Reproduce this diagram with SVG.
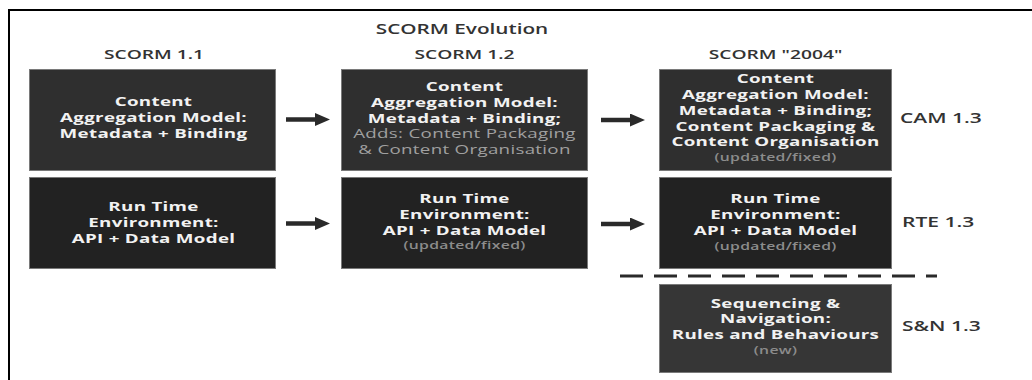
<svg xmlns="http://www.w3.org/2000/svg" width="1032" height="380" viewBox="0 0 1032 380">
<style>
text{font-family:"Open Sans","Liberation Sans",sans-serif}
.t{font-size:12.5px;font-weight:700;fill:#f2f2f2;text-anchor:middle;letter-spacing:0.2px}
.s{font-size:10.5px;font-weight:600;fill:#8c8c8c}
.g{font-weight:400;fill:#a0a0a0}
.h{font-size:13px;font-weight:600;fill:#333;text-anchor:middle}
.ti{font-size:14px;font-weight:600;fill:#333;text-anchor:middle}
.l{font-size:14px;font-weight:600;fill:#333;text-anchor:start}
.b1{fill:#2f2f2f;stroke:#7a7a7a;stroke-width:1}
.b2{fill:#222;stroke:#7a7a7a;stroke-width:1}
.b3{fill:#363636;stroke:#7a7a7a;stroke-width:1}
.c{stroke:#2a2a2a;stroke-width:4.5;fill:none;marker-end:url(#ah)}
</style>
<defs>
<marker id="ah" markerUnits="userSpaceOnUse" markerWidth="16" markerHeight="14" refX="0" refY="6.5" orient="auto">
<path d="M0,0 L15,6.5 L0,13 Z" fill="#2a2a2a"/>
</marker>
</defs>
<rect width="1032" height="380" fill="#fff"/>
<path d="M9,380 V10 H1032" fill="none" stroke="#000" stroke-width="2"/>
<g id="titles">
<text class="ti" transform="translate(462 0) scale(1.48 1)" x="0" y="34">SCORM Evolution</text>
<text class="h" transform="translate(154 0) scale(1.48 1)" x="0" y="59.5">SCORM 1.1</text>
<text class="h" transform="translate(464.5 0) scale(1.48 1)" x="0" y="59.5">SCORM 1.2</text>
<text class="h" transform="translate(775.5 0) scale(1.48 1)" x="0" y="59.5">SCORM "2004"</text>
</g>
<g id="cam11">
<rect class="b1" x="29.5" y="69.5" width="246" height="101"/>
<text class="t" transform="translate(153.5 0) scale(1.5 1)"><tspan x="0" y="106">Content</tspan><tspan x="0" y="122">Aggregation Model:</tspan><tspan x="0" y="138">Metadata + Binding</tspan></text>
</g>
<g id="cam12">
<rect class="b1" x="341.5" y="69.5" width="246" height="101"/>
<text class="t" transform="translate(464.5 0) scale(1.5 1)"><tspan x="0" y="91.5">Content</tspan><tspan x="0" y="107.5">Aggregation Model:</tspan><tspan x="0" y="123">Metadata + Binding;</tspan><tspan class="g" x="0" y="138.5">Adds: Content Packaging</tspan><tspan class="g" x="0" y="154">&amp; Content Organisation</tspan></text>
</g>
<g id="cam2004">
<rect class="b1" x="659.5" y="69.5" width="232" height="101"/>
<text class="t" transform="translate(775.5 0) scale(1.5 1)"><tspan x="0" y="83.5">Content</tspan><tspan x="0" y="99">Aggregation Model:</tspan><tspan x="0" y="115">Metadata + Binding;</tspan><tspan x="0" y="131">Content Packaging &amp;</tspan><tspan x="0" y="146.5">Content Organisation</tspan><tspan class="s" x="0" y="161.5">(updated/fixed)</tspan></text>
</g>
<g id="rte11">
<rect class="b2" x="29.5" y="177.5" width="246" height="91"/>
<text class="t" transform="translate(153.5 0) scale(1.5 1)"><tspan x="0" y="211">Run Time</tspan><tspan x="0" y="227">Environment:</tspan><tspan x="0" y="243.5">API + Data Model</tspan></text>
</g>
<g id="rte12">
<rect class="b2" x="341.5" y="177.5" width="246" height="91"/>
<text class="t" transform="translate(464.5 0) scale(1.5 1)"><tspan x="0" y="203">Run Time</tspan><tspan x="0" y="219">Environment:</tspan><tspan x="0" y="235">API + Data Model</tspan><tspan class="s" x="0" y="249.5">(updated/fixed)</tspan></text>
</g>
<g id="rte2004">
<rect class="b2" x="659.5" y="177.5" width="232" height="91"/>
<text class="t" transform="translate(775.5 0) scale(1.5 1)"><tspan x="0" y="203.5">Run Time</tspan><tspan x="0" y="219.5">Environment:</tspan><tspan x="0" y="235">API + Data Model</tspan><tspan class="s" x="0" y="250.5">(updated/fixed)</tspan></text>
</g>
<g id="sn2004">
<rect class="b3" x="659.5" y="284.5" width="232" height="88"/>
<text class="t" transform="translate(775.5 0) scale(1.5 1)"><tspan x="0" y="308">Sequencing &amp;</tspan><tspan x="0" y="323.5">Navigation:</tspan><tspan x="0" y="339">Rules and Behaviours</tspan><tspan class="s" x="0" y="354">(new)</tspan></text>
</g>
<g id="labels">
<text class="l" transform="translate(900 0) scale(1.5 1)" x="0" y="123.5">CAM 1.3</text>
<text class="l" transform="translate(902 0) scale(1.5 1)" x="0" y="227">RTE 1.3</text>
<text class="l" transform="translate(902 0) scale(1.5 1)" x="0" y="331">S&amp;N 1.3</text>
</g>
<g id="connectors">
<line class="c" x1="286" y1="119.5" x2="315" y2="119.5"/>
<line class="c" x1="601" y1="120" x2="630" y2="120"/>
<line class="c" x1="286" y1="223.5" x2="315" y2="223.5"/>
<line class="c" x1="601" y1="224" x2="630" y2="224"/>
<line x1="620" y1="276" x2="937" y2="276" stroke="#2a2a2a" stroke-width="3" stroke-dasharray="23 11"/>
</g>
</svg>
